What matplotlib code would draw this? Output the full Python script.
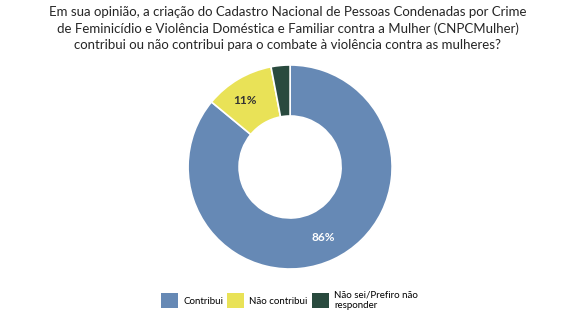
import numpy as np
import matplotlib.pyplot as plt
from matplotlib.patches import Patch

categorias = ['Contribui', 'Não contribui', 'Não sei/Prefiro não\nresponder']
valores = [86, 11, 3]
rotulos = ['86%', '11%', '']
cores = ['#6689b5', '#e9e257', '#294a3e']
cores_texto = ['white', '#333333', 'white']

titulo = ('Em sua opinião, a criação do Cadastro Nacional de Pessoas Condenadas por Crime\n'
          'de Feminicídio e Violência Doméstica e Familiar contra a Mulher (CNPCMulher)\n'
          'contribui ou não contribui para o combate à violência contra as mulheres?')

plt.rcParams['font.family'] = ['Lato', 'DejaVu Sans']

fig = plt.figure(figsize=(5.75, 3.35), dpi=100)
fig.text(0.5, 0.982, titulo, ha='center', va='top', fontsize=9.5,
         color='#262626', linespacing=1.42)

ax = fig.add_axes([0.327, 0.197, 0.355, 0.609])
wedges, _ = ax.pie(valores, startangle=90, counterclock=False, colors=cores,
                   wedgeprops=dict(width=0.5, edgecolor='white', linewidth=1.2))
ax.set_xlim(-1, 1)
ax.set_ylim(-1, 1)
ax.set_aspect('equal')

# rótulos de percentual no meio do anel
ang = 90.0
for w, v, r, c in zip(wedges, valores, rotulos, cores_texto):
    meio = ang - v / 100 * 360 / 2
    ang -= v / 100 * 360
    if r:
        x = 0.76 * np.cos(np.radians(meio))
        y = 0.76 * np.sin(np.radians(meio))
        if v < 50:
            x -= 0.06
        ax.text(x, y, r, ha='center', va='center', fontsize=8.5,
                fontweight='bold', color=c)

handles = [Patch(facecolor=c, edgecolor='none') for c in cores]
fig.legend(handles, categorias, loc='center', bbox_to_anchor=(0.503, 0.104),
           ncol=3, frameon=False, fontsize=7, handlelength=1.75,
           handleheight=1.9, handletextpad=0.55, columnspacing=0.4,
           borderpad=0)

fig.savefig('out.png', dpi=100)
